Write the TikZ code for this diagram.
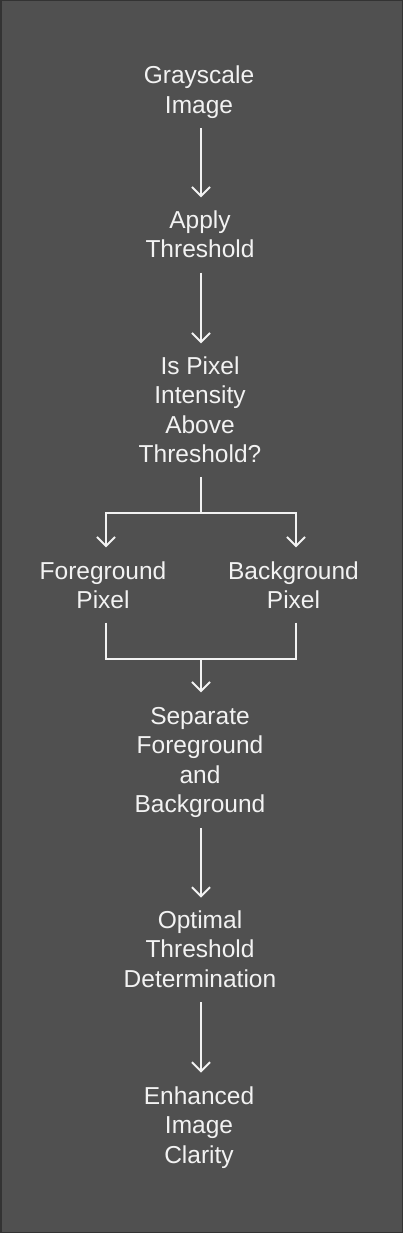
\documentclass[tikz,border=0pt]{standalone}
\usepackage{fontspec}
\setmainfont{Liberation Sans}
\usetikzlibrary{arrows.meta}
\definecolor{bgcol}{HTML}{505050}
\definecolor{framecol}{HTML}{333333}
\definecolor{txtcol}{HTML}{F2F2F2}
\begin{document}
\begin{tikzpicture}[x=1pt,y=-1pt,
  lbl/.style={text=txtcol, align=center, inner sep=0pt, outer sep=0pt,
    font=\fontsize{24.5}{29.6}\selectfont},
  arr/.style={draw=txtcol, line width=2pt, -{Straight Barb[length=9pt,width=18pt]}},
  ln/.style={draw=txtcol, line width=2pt}]
\useasboundingbox (0,0) rectangle (403,1233);
\draw[fill=bgcol, draw=framecol, line width=1.5pt] (0.75,0.75) rectangle (402.25,1232.25);

\node[lbl] (g)   at (199,92.3)  {\strut Grayscale\\\strut Image};
\node[lbl] (a)   at (200,237)   {\strut Apply\\\strut Threshold};
\node[lbl] (q)   at (200,412.6) {\strut Is Pixel\\\strut Intensity\\\strut Above\\\strut Threshold?};
\node[lbl] (fgp) at (103,588)   {\strut Foreground\\\strut Pixel};
\node[lbl] (bgp) at (293.5,588) {\strut Background\\\strut Pixel};
\node[lbl] (sep) at (200,762.6) {\strut Separate\\\strut Foreground\\\strut and\\\strut Background};
\node[lbl] (opt) at (200,952)   {\strut Optimal\\\strut Threshold\\\strut Determination};
\node[lbl] (enh) at (199,1128)  {\strut Enhanced\\\strut Image\\\strut Clarity};

\coordinate (s1) at (201,513);
\coordinate (m1) at (201,659);

\draw[arr, shorten <=6pt, shorten >=10pt] ([xshift=2pt]g.south) -- ([xshift=1pt]a.north);
\draw[arr, shorten <=6pt, shorten >=10pt] ([xshift=1pt]a.south) -- ([xshift=1pt]q.north);
\draw[ln] ([xshift=1pt,yshift=-5pt]q.south) -- (s1);
\draw[arr, shorten >=11pt] (s1) -| ([xshift=3pt]fgp.north);
\draw[arr, shorten >=11pt] (s1) -| ([xshift=2.5pt]bgp.north);
\draw[ln] ([xshift=3pt,yshift=-5pt]fgp.south) |- (m1);
\draw[ln] ([xshift=2.5pt,yshift=-5pt]bgp.south) |- (m1);
\draw[arr, shorten >=11pt] (m1) -- ([xshift=1pt]sep.north);
\draw[arr, shorten <=6pt, shorten >=10pt] ([xshift=1pt]sep.south) -- ([xshift=1pt]opt.north);
\draw[arr, shorten <=6pt, shorten >=11pt] ([xshift=1pt]opt.south) -- ([xshift=2pt]enh.north);
\end{tikzpicture}
\end{document}
